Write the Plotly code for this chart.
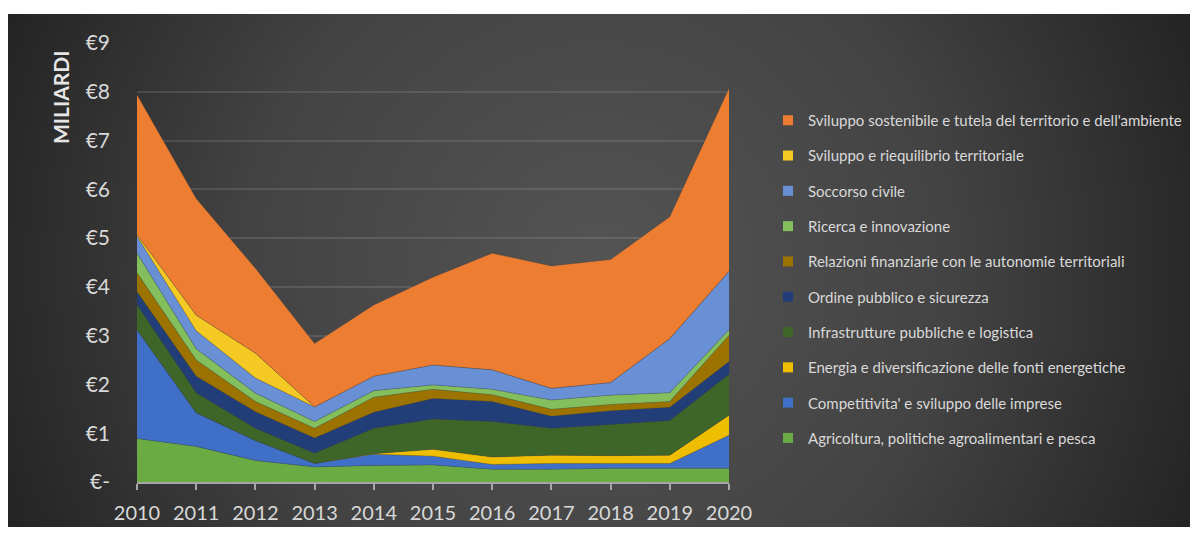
import base64
import plotly.graph_objects as go

years = [2010, 2011, 2012, 2013, 2014, 2015, 2016, 2017, 2018, 2019, 2020]

agricoltura = [0.89, 0.73, 0.44, 0.31, 0.34, 0.35, 0.26, 0.26, 0.28, 0.28, 0.28]
competitivita = [2.23, 0.69, 0.41, 0.07, 0.23, 0.18, 0.10, 0.12, 0.10, 0.10, 0.68]
energia = [0.00, 0.00, 0.00, 0.00, 0.01, 0.14, 0.15, 0.17, 0.16, 0.17, 0.41]
infrastrutture = [0.52, 0.41, 0.25, 0.21, 0.52, 0.62, 0.73, 0.55, 0.64, 0.71, 0.84]
ordine = [0.26, 0.34, 0.34, 0.31, 0.33, 0.42, 0.41, 0.25, 0.28, 0.27, 0.26]
relazioni = [0.39, 0.33, 0.21, 0.20, 0.31, 0.19, 0.14, 0.14, 0.13, 0.12, 0.54]
ricerca = [0.40, 0.23, 0.17, 0.14, 0.13, 0.09, 0.11, 0.19, 0.19, 0.18, 0.11]
soccorso = [0.35, 0.37, 0.31, 0.30, 0.30, 0.41, 0.40, 0.24, 0.26, 1.11, 1.20]
riequilibrio = [0.03, 0.32, 0.51, 0.00, 0.00, 0.00, 0.00, 0.00, 0.00, 0.00, 0.00]
sostenibile = [2.87, 2.39, 1.74, 1.30, 1.46, 1.80, 2.39, 2.51, 2.52, 2.50, 3.75]

series_names = [
    "Agricoltura, politiche agroalimentari e pesca",
    "Competitivita' e sviluppo delle imprese",
    "Energia e diversificazione delle fonti energetiche",
    "Infrastrutture pubbliche e logistica",
    "Ordine pubblico e sicurezza",
    "Relazioni finanziarie con le autonomie territoriali",
    "Ricerca e innovazione",
    "Soccorso civile",
    "Sviluppo e riequilibrio territoriale",
    "Sviluppo sostenibile e tutela del territorio e dell'ambiente",
]
series_values = [agricoltura, competitivita, energia, infrastrutture, ordine,
                 relazioni, ricerca, soccorso, riequilibrio, sostenibile]
colors = ["#6aab44", "#3f6fc7", "#f0be00", "#3e6629", "#213e78",
          "#9c7300", "#84bf5d", "#6990d4", "#f5c923", "#ed7d31"]

y_tickvals = [0, 1, 2, 3, 4, 5, 6, 7, 8, 9]
y_ticktext = ["€-", "€1", "€2", "€3", "€4", "€5", "€6", "€7", "€8", "€9"]

W, H = 1193, 539
ml, mr, mt, mb = 137, 464, 43, 57
pw, ph = W - ml - mr, H - mt - mb

def px_to_paper_x(px):
    return (px - ml) / pw

def px_to_paper_y(py):
    return (H - mb - py) / ph

fig = go.Figure()

# stacked areas (bottom to top)
for name, vals, col in zip(series_names, series_values, colors):
    fig.add_trace(go.Scatter(
        x=years, y=vals, name=name, stackgroup="one", mode="lines",
        line=dict(width=0.6, color="rgba(60,60,60,0.5)"), fillcolor=col,
        showlegend=False, hoverinfo="x+y+name",
    ))

# legend entries with square keys, listed top series first
n = len(series_names)
for k in range(n - 1, -1, -1):
    fig.add_trace(go.Scatter(
        x=[None], y=[None], name=series_names[k], mode="markers",
        marker=dict(symbol="square", size=10, color=colors[k]),
        legendgroup=f"g{n - 1 - k}", showlegend=True,
    ))

# background with radial gradient
bx0, by0, bx1, by1 = 8, 14, 1190, 527
bw, bh = bx1 - bx0, by1 - by0
svg = (
    f"<svg xmlns='http://www.w3.org/2000/svg' width='{bw}' height='{bh}' "
    f"viewBox='0 0 {bw} {bh}' preserveAspectRatio='none'>"
    "<defs><radialGradient id='g' gradientUnits='userSpaceOnUse' "
    f"cx='{bw*0.5}' cy='{bh*0.5}' r='640'>"
    "<stop offset='0' stop-color='#545454'/>"
    "<stop offset='0.55' stop-color='#434343'/>"
    "<stop offset='1' stop-color='#242424'/>"
    "</radialGradient></defs>"
    f"<rect width='{bw}' height='{bh}' fill='url(#g)'/></svg>"
)
src = "data:image/svg+xml;base64," + base64.b64encode(svg.encode()).decode()
fig.add_layout_image(dict(
    source=src, xref="paper", yref="paper",
    x=px_to_paper_x(bx0), y=px_to_paper_y(by0),
    sizex=bw / pw, sizey=bh / ph,
    xanchor="left", yanchor="top", sizing="stretch", layer="below",
))

fig.add_annotation(
    text="<b>MILIARDI</b>", textangle=-90, showarrow=False,
    xref="paper", yref="paper", xanchor="center", yanchor="middle",
    x=px_to_paper_x(60), y=px_to_paper_y(97),
    font=dict(family="Lato, Open Sans, sans-serif", size=21, color="#e6e6e6"),
)

fig.update_layout(
    width=W, height=H,
    margin=dict(l=ml, r=mr, t=mt, b=mb, autoexpand=False),
    paper_bgcolor="white",
    plot_bgcolor="rgba(0,0,0,0)",
    font=dict(family="Lato, Open Sans, sans-serif", color="#d9d9d9"),
    legend=dict(
        x=px_to_paper_x(768), y=px_to_paper_y(104),
        xanchor="left", yanchor="top",
        traceorder="grouped", tracegroupgap=12.8,
        font=dict(size=15, color="#d9d9d9"),
        bgcolor="rgba(0,0,0,0)",
    ),
    xaxis=dict(
        range=[2010, 2020], tickvals=years, ticktext=[str(y) for y in years],
        showgrid=False, zeroline=False,
        showline=True, linecolor="#a6a6a6", linewidth=2,
        ticks="outside", ticklen=6, tickwidth=2, tickcolor="#a6a6a6",
        tickfont=dict(size=20, color="#d9d9d9"),
        ticklabelstandoff=6,
    ),
    yaxis=dict(
        range=[0, 9], tickvals=y_tickvals, ticktext=y_ticktext,
        showgrid=True, gridcolor="rgba(255,255,255,0.11)", gridwidth=1.5,
        zeroline=False, showline=False,
        tickfont=dict(size=21, color="#d9d9d9"),
        ticklabelstandoff=26,
    ),
    showlegend=True,
)

fig.write_html("out.html")
